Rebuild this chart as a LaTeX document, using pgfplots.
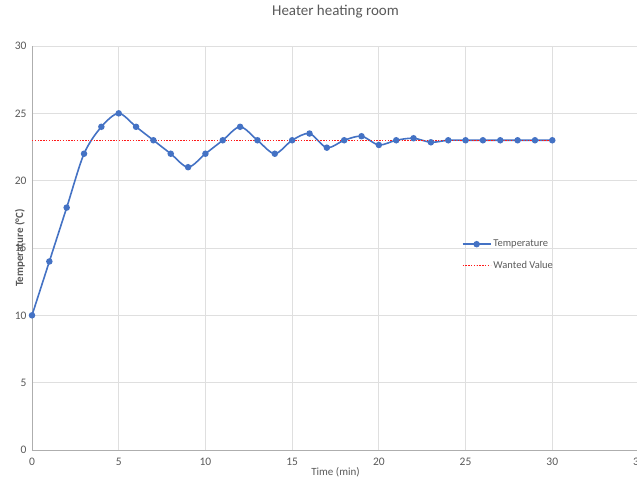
\documentclass[border=0pt]{standalone}
\usepackage{fontspec}
\setmainfont{Carlito}
\usepackage{pgfplots}
\pgfplotsset{compat=1.18}
\definecolor{blu}{HTML}{4472C4}
\definecolor{txt}{HTML}{595959}
\definecolor{grd}{HTML}{D9D9D9}
\begin{document}
\begin{tikzpicture}[x=1pt,y=1pt]
\useasboundingbox (0,0) rectangle (637,479);
\begin{axis}[
 at={(32pt,29pt)}, anchor=south west, scale only axis, width=607pt, height=404pt,
 xmin=0,xmax=35,ymin=0,ymax=30,
 xtick={0,5,...,35}, ytick={0,5,...,30},
 axis x line*=bottom, axis y line*=left,
 axis line style={grd!80!black, line width=0.8pt, -},
 grid=major, major grid style={grd!85, line width=0.8pt},
 tick style={draw=none},
 /pgf/number format/assume math mode=true,
 ticklabel style={font=\fontsize{11.5}{11.5}\selectfont, text=txt},
 xticklabel style={yshift=-5pt},
 yticklabel style={xshift=-2pt},
 title={Heater heating room},
 title style={font=\fontsize{15}{15}\selectfont, text=txt, at={(axis description cs:0.5,1)}, anchor=center, yshift=28pt},
 xlabel={Time (min)},
 xlabel style={font=\fontsize{11}{11}\selectfont, text=txt, at={(axis description cs:0.5,-0.0545)}, anchor=center},
 ylabel={Temperature (°C)},
 ylabel style={font=\bfseries\fontsize{11}{11}\selectfont, text=txt, at={(axis description cs:-0.0198,0.5)}, anchor=center},
 legend style={at={(axis cs:24.6,15.9)}, anchor=north west, draw=none, fill=none, font=\fontsize{10.5}{10.5}\selectfont, text=txt, row sep=9pt},
 legend cell align=left,
 legend image code/.code={\draw[mark repeat=2,mark phase=2] plot coordinates {(0pt,0pt) (14pt,0pt) (28pt,0pt)};},
]
\addplot[blu, line width=1.6pt, smooth, tension=0.5, mark=*, mark size=2.4pt, mark options={fill=blu, draw=blu}] coordinates {
(0,10) (1,14) (2,18) (3,22) (4,24) (5,25) (6,24) (7,23) (8,22) (9,21) (10,22) (11,23) (12,24) (13,23) (14,22) (15,23) (16,23.5) (17,22.45) (18,23) (19,23.3) (20,22.65) (21,23) (22,23.15) (23,22.85) (24,23) (25,23) (26,23) (27,23) (28,23) (29,23) (30,23)
};
\addlegendentry{Temperature}
\addplot[red!90!white, line width=1.5pt, dash pattern=on 1.4pt off 1.4pt] coordinates {(0,23) (30,23)};
\addlegendentry{Wanted Value}
\end{axis}
\end{tikzpicture}
\end{document}
